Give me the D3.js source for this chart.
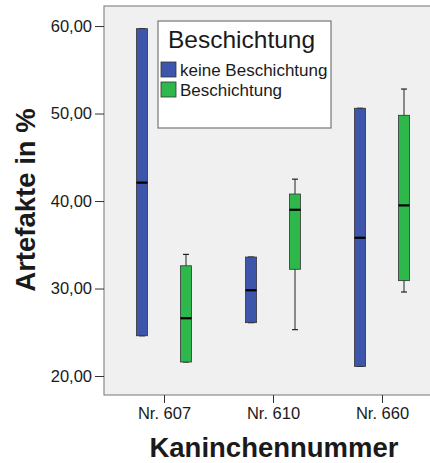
<!DOCTYPE html>
<html>
<head>
<meta charset="utf-8">
<script src="https://cdn.jsdelivr.net/npm/d3@7"></script>
<style>
  body { margin: 0; background: #fff; }
  text { font-family: "Liberation Sans", Arial, sans-serif; fill: #1a1a1a; }
</style>
</head>
<body>
<svg id="chart" width="430" height="463"></svg>
<script>
// categories and groups
const rabbits = ['Nr. 607', 'Nr. 610', 'Nr. 660']
const groups = ['keine Beschichtung', 'Beschichtung']
const groupColors = ['#3d56ab', '#2eb84b']
const yTicks = [20, 30, 40, 50, 60]

// box stats per group, one entry per rabbit: [lowWhisker, q1, median, q3, highWhisker]
const keineStats = [
  [24.6, 24.6, 42.1, 59.7, 59.7],
  [26.1, 26.1, 29.8, 33.6, 33.6],
  [21.1, 21.1, 35.8, 50.6, 50.6]
]
const beschStats = [
  [21.6, 21.6, 26.6, 32.6, 33.9],
  [25.3, 32.2, 39.0, 40.8, 42.5],
  [29.6, 30.9, 39.5, 49.8, 52.8]
]

const rows = []
rabbits.forEach((r, i) => {
  [keineStats, beschStats].forEach((s, g) => {
    const [lo, q1, med, q3, hi] = s[i]
    rows.push({rabbit: r, group: g, lo, q1, med, q3, hi})
  })
})

const svg = d3.select('#chart')
const plotL = 104, plotR = 436, plotT = 6, plotB = 395

const y = d3.scaleLinear().domain([17.83, 62.29]).range([plotB, plotT])
const x = d3.scalePoint().domain(rabbits).range([164, 382])
const offset = d3.scalePoint().domain([0, 1]).range([-22, 22])
const boxW = 11

svg.append('rect')
  .attr('x', plotL).attr('y', plotT)
  .attr('width', plotR - plotL).attr('height', plotB - plotT)
  .attr('fill', '#f0f0f0')
  .attr('stroke', '#8a8a8a').attr('stroke-width', 1.2)

// axes
const yAxis = svg.append('g')
  .attr('transform', `translate(${plotL},0)`)
  .call(d3.axisLeft(y).tickValues(yTicks).tickSize(9).tickPadding(3)
    .tickFormat(d => d3.format('.2f')(d).replace('.', ',')))
yAxis.select('.domain').remove()
yAxis.selectAll('line').attr('stroke', '#333')
yAxis.selectAll('text').attr('font-size', 16.5).attr('fill', '#1a1a1a')

const xAxis = svg.append('g')
  .attr('transform', `translate(0,${plotB})`)
  .call(d3.axisBottom(x).tickSize(8).tickPadding(4))
xAxis.select('.domain').remove()
xAxis.selectAll('line').attr('stroke', '#333')
xAxis.selectAll('text').attr('font-size', 16.5).attr('fill', '#1a1a1a')

// boxes
const box = svg.append('g').selectAll('g').data(rows).enter().append('g')
  .attr('transform', d => `translate(${x(d.rabbit) + offset(d.group)},0)`)

box.append('line')
  .attr('y1', d => y(d.hi)).attr('y2', d => y(d.lo))
  .attr('stroke', '#222').attr('stroke-width', 1)
box.selectAll('.cap').data(d => [d.lo, d.hi]).enter().append('line')
  .attr('x1', -3).attr('x2', 3)
  .attr('y1', v => y(v)).attr('y2', v => y(v))
  .attr('stroke', '#222').attr('stroke-width', 1.2)
box.append('rect')
  .attr('x', -boxW / 2).attr('width', boxW)
  .attr('y', d => y(d.q3)).attr('height', d => y(d.q1) - y(d.q3))
  .attr('fill', d => groupColors[d.group])
  .attr('stroke', '#333').attr('stroke-width', 0.8)
box.append('line')
  .attr('x1', -boxW / 2).attr('x2', boxW / 2)
  .attr('y1', d => y(d.med)).attr('y2', d => y(d.med))
  .attr('stroke', '#000').attr('stroke-width', 2.2)

// legend
const legend = svg.append('g').attr('transform', 'translate(158,21)')
legend.append('rect')
  .attr('width', 173).attr('height', 107)
  .attr('fill', '#fff').attr('stroke', '#777').attr('stroke-width', 1.2)
legend.append('text')
  .attr('x', 10).attr('y', 27)
  .attr('font-size', 24.5)
  .text('Beschichtung')
const item = legend.selectAll('.item').data(groups).enter().append('g')
  .attr('transform', (d, i) => `translate(3,${41 + i * 20})`)
item.append('rect')
  .attr('width', 15).attr('height', 15)
  .attr('fill', (d, i) => groupColors[i])
  .attr('stroke', '#333').attr('stroke-width', 0.8)
item.append('text')
  .attr('x', 19).attr('y', 13.5)
  .attr('font-size', 17)
  .text(d => d)

// axis titles
svg.append('text')
  .attr('transform', 'translate(35,200) rotate(-90)')
  .attr('text-anchor', 'middle')
  .attr('font-size', 27.5).attr('font-weight', 'bold')
  .text('Artefakte in %')
svg.append('text')
  .attr('x', 274).attr('y', 457)
  .attr('text-anchor', 'middle')
  .attr('font-size', 27.5).attr('font-weight', 'bold')
  .text('Kaninchennummer')
</script>
</body>
</html>
